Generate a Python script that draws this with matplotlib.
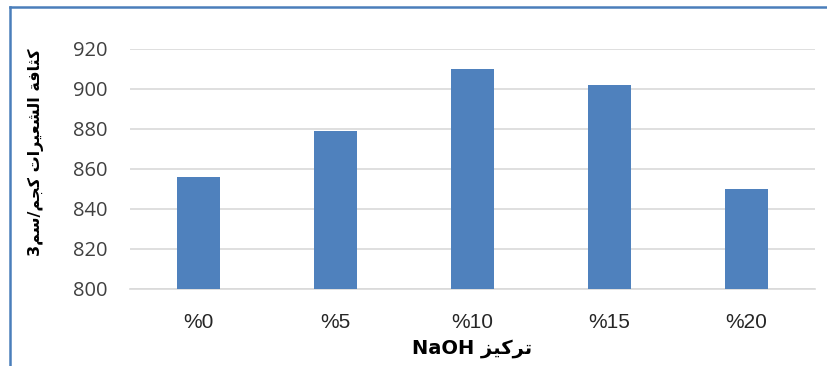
import matplotlib.pyplot as plt
from matplotlib.lines import Line2D

# data
categories = ['%0', '%5', '%10', '%15', '%20']
density = [856, 879, 910, 902, 850]
y_ticks = [800, 820, 840, 860, 880, 900, 920]

# Arabic labels written with presentation forms in visual order (matplotlib has no shaping)
kathafa = '\uFEDB\uFE9C\uFE8E\uFED3\uFE94'                       # كثافة
alshaeirat = '\uFE8D\uFEDF\uFEB8\uFECC\uFEF4\uFEAE\uFE8D\uFE95'  # الشعيرات
kgm = '\uFEDB\uFEA0\uFEE2'                                        # كجم
sm = '\uFEB3\uFEE2'                                               # سم
tarkiz = '\uFE97\uFEAE\uFEDB\uFEF4\uFEB0'                         # تركيز

ylabel = '3' + sm[::-1] + '/' + kgm[::-1] + ' ' + alshaeirat[::-1] + ' ' + kathafa[::-1]
xlabel = 'NaOH ' + tarkiz[::-1]

bar_color = '#4F81BD'
grid_color = '#D9D9D9'

fig = plt.figure(figsize=(8.28, 3.66), dpi=100)
ax = fig.add_axes([0.157, 0.2104, 0.827, 0.657])

x = range(len(categories))
ax.bar(x, [v - 800 for v in density], bottom=800, width=0.315, color=bar_color, zorder=3)

ax.set_xlim(-0.5, len(categories) - 0.5)
ax.set_ylim(800, 920)
ax.set_yticks(y_ticks)
ax.set_yticklabels([str(t) for t in y_ticks], fontsize=14.5, color='#404040', family='Open Sans')
ax.set_xticks(list(x))
ax.set_xticklabels(categories, fontsize=15, color='#262626', family='Liberation Sans')

ax.yaxis.grid(True, color=grid_color, linewidth=1.2, zorder=0)
ax.tick_params(axis='both', length=0)
ax.tick_params(axis='y', pad=16)
ax.tick_params(axis='x', pad=17)
for side in ['top', 'right', 'left']:
    ax.spines[side].set_visible(False)
ax.spines['bottom'].set_color(grid_color)
ax.spines['bottom'].set_linewidth(1.2)

ax.set_ylabel(ylabel, fontsize=11.5, fontweight='bold', family='DejaVu Sans')
ax.yaxis.set_label_coords(-0.126, 0.57)
ax.set_xlabel(xlabel, fontsize=14, fontweight='bold', family='DejaVu Sans', labelpad=5)

# blue chart-area border (cut off at right and bottom)
border = '#4A7EBB'
fig.add_artist(Line2D([10 / 828, 10 / 828], [0, 1 - 7 / 366], transform=fig.transFigure,
                      color=border, linewidth=1.8))
fig.add_artist(Line2D([10 / 828, 1], [1 - 7 / 366, 1 - 7 / 366], transform=fig.transFigure,
                      color=border, linewidth=1.8))

fig.savefig('out.png', dpi=100)
